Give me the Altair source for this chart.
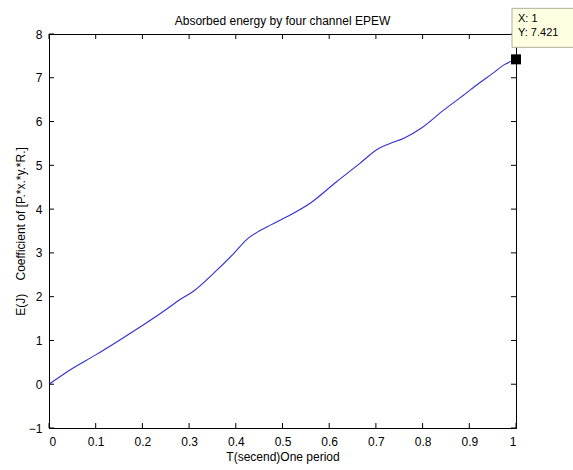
import altair as alt
import pandas as pd

# ---- data ----
t_values = [0.0, 0.05, 0.1, 0.15, 0.2, 0.25, 0.28, 0.31, 0.355, 0.395, 0.425, 0.45,
            0.475, 0.51, 0.56, 0.615, 0.665, 0.705, 0.73, 0.76, 0.80, 0.845, 0.89,
            0.92, 0.95, 0.975, 1.0]
e_values = [0.0, 0.36, 0.67, 1.0, 1.34, 1.70, 1.93, 2.13, 2.56, 2.98, 3.32, 3.50,
            3.64, 3.83, 4.14, 4.62, 5.04, 5.38, 5.50, 5.62, 5.87, 6.26, 6.62,
            6.87, 7.10, 7.30, 7.421]
x_ticks = [0, 0.1, 0.2, 0.3, 0.4, 0.5, 0.6, 0.7, 0.8, 0.9, 1]
y_ticks = [-1, 0, 1, 2, 3, 4, 5, 6, 7, 8]
tip_t = [1]
tip_e = [7.421]
tip_lines = ["X: 1", "Y: 7.421"]
title_text = "Absorbed energy by four channel EPEW"
x_title = "T(secend)One period"
y_title = "E(J)\u00a0\u00a0\u00a0\u00a0Coefficient of [P.*x.*y.*R.]"

W, H = 467, 394
FONT = "Liberation Sans"

df = pd.DataFrame({"t": t_values, "e": e_values})
tip = pd.DataFrame({"t": tip_t, "e": tip_e})
xs = alt.Scale(domain=[0, 1], nice=False, zero=False)
ys = alt.Scale(domain=[-1, 8], nice=False, zero=False)

line = alt.Chart(df).mark_line(color="#2f2fd8", strokeWidth=1.1, interpolate="monotone").encode(
    x=alt.X("t:Q", scale=xs,
            axis=alt.Axis(values=x_ticks, title=x_title, ticks=False,
                          labelPadding=8, titlePadding=4, grid=False,
                          labelExpr="datum.value == 0 ? '0' : datum.value == 1 ? '1' : format(datum.value, '.1f')")),
    y=alt.Y("e:Q", scale=ys,
            axis=alt.Axis(values=y_ticks, title=y_title,
                          ticks=False, labelPadding=7, titlePadding=1, grid=False)),
)

xt = pd.DataFrame({"v": x_ticks})
yt = pd.DataFrame({"v": y_ticks})
tick_bottom = alt.Chart(xt).mark_rule(color="black").encode(
    x=alt.X("v:Q", scale=xs), y=alt.value(H), y2=alt.value(H - 5))
tick_top = alt.Chart(xt).mark_rule(color="black").encode(
    x=alt.X("v:Q", scale=xs), y=alt.value(0), y2=alt.value(5))
tick_left = alt.Chart(yt).mark_rule(color="black").encode(
    y=alt.Y("v:Q", scale=ys), x=alt.value(0), x2=alt.value(5))
tick_right = alt.Chart(yt).mark_rule(color="black").encode(
    y=alt.Y("v:Q", scale=ys), x=alt.value(W), x2=alt.value(W - 5))

title = alt.Chart(tip).mark_text(
    text=title_text, align="center", baseline="alphabetic", font=FONT, fontSize=12,
    color="black", clip=False,
).encode(x=alt.value(W / 2), y=alt.value(-9))

box = alt.Chart(tip).mark_rect(
    fill="#ffffe1", stroke="#b0b0a0", strokeWidth=1, clip=False,
    xOffset=-4, x2Offset=62, yOffset=-51, y2Offset=-12,
).encode(x=alt.X("t:Q", scale=xs), x2="t:Q", y=alt.Y("e:Q", scale=ys), y2="e:Q")

marker = alt.Chart(tip).mark_square(size=100, color="black", opacity=1, clip=False).encode(
    x=alt.X("t:Q", scale=xs), y=alt.Y("e:Q", scale=ys))

txt1 = alt.Chart(tip).mark_text(
    text=tip_lines[0], align="left", baseline="middle", dx=2, dy=-40,
    font=FONT, fontSize=11, color="black", clip=False,
).encode(x=alt.X("t:Q", scale=xs), y=alt.Y("e:Q", scale=ys))
txt2 = alt.Chart(tip).mark_text(
    text=tip_lines[1], align="left", baseline="middle", dx=2, dy=-26,
    font=FONT, fontSize=11, color="black", clip=False,
).encode(x=alt.X("t:Q", scale=xs), y=alt.Y("e:Q", scale=ys))

chart = alt.layer(
    line, tick_bottom, tick_top, tick_left, tick_right, title, box, marker, txt1, txt2
).properties(
    width=W, height=H,
    autosize=alt.AutoSizeParams(type="none"),
    padding={"left": 49, "top": 34, "right": 57, "bottom": 42},
    background="white",
).configure_view(
    stroke="black", strokeWidth=1,
).configure_axis(
    domainColor="black", domainWidth=1, labelColor="black", titleColor="black",
    labelFont=FONT, titleFont=FONT, labelFontSize=12, titleFontSize=12,
    titleFontWeight="normal",
)

chart.save("out.html", embed_options={"renderer": "svg", "actions": False})
